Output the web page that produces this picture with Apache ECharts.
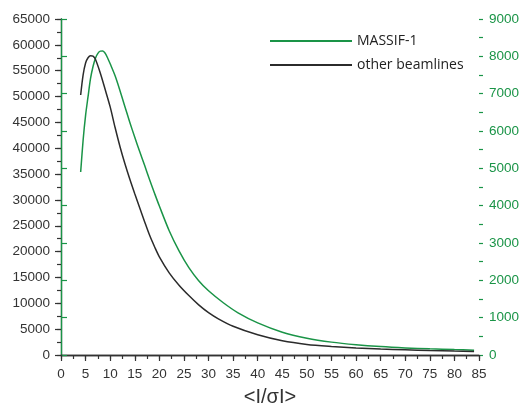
<!DOCTYPE html>
<html>
<head>
<meta charset="utf-8">
<script src="https://cdn.jsdelivr.net/npm/echarts@6/dist/echarts.min.js"></script>
<style>html,body{margin:0;padding:0;background:#fff}#c{width:522px;height:403px}</style>
</head>
<body>
<div id="c"></div>
<script>
// x values: <I/sigmaI>
var otherX = [4, 4.5, 5, 5.5, 6, 6.5, 7, 8, 9, 10, 11, 12, 13, 14, 15, 16, 17, 18, 19, 20, 22, 24, 26, 28, 30, 32, 35, 40, 45, 50, 55, 60, 65, 70, 75, 80, 84];
var otherY = [50300, 54200, 56500, 57500, 57900, 57800, 57200, 54500, 51300, 48000, 44000, 40300, 37000, 34000, 31200, 28500, 25800, 23200, 21000, 19000, 15900, 13500, 11500, 9700, 8200, 7000, 5550, 3900, 2750, 2050, 1650, 1350, 1150, 1000, 860, 760, 700];
var massifX = [4, 4.5, 5, 5.5, 6, 6.5, 7, 7.5, 8, 8.5, 9, 9.5, 10, 11, 12, 13, 14, 15, 16, 17, 18, 19, 20, 22, 24, 26, 28, 30, 33, 36, 40, 45, 50, 55, 60, 65, 70, 75, 80, 84];
var massifY = [4900, 5760, 6420, 6920, 7400, 7720, 7950, 8080, 8140, 8145, 8080, 7950, 7800, 7480, 7080, 6650, 6230, 5830, 5450, 5080, 4700, 4340, 3990, 3330, 2790, 2340, 1990, 1720, 1400, 1130, 860, 610, 450, 345, 275, 225, 190, 165, 145, 130];
var xTicks = {min: 0, max: 85, interval: 5, minor: 2.5};
var leftTicks = {min: 0, max: 65000, interval: 5000, minor: 2500};
var rightTicks = {min: 0, max: 9000, interval: 1000, minor: 500};
var names = ['MASSIF-1', 'other beamlines'];

function pairs(xs, ys) { return xs.map(function (x, i) { return [x, ys[i]]; }); }
function plain(v) { return String(v); }

var GREEN = '#1a9447';
var DARK = '#2b2b2b';
var AX = '#333';
var FONT = 'Liberation Sans';

function tickOnly(base, pos, color) {
  return {
    type: 'value', position: pos, min: base.min, max: base.max, interval: base.minor,
    axisLine: {show: false},
    axisTick: {show: true, inside: false, length: 4, lineStyle: {color: color, width: 1.2}},
    axisLabel: {show: false}, splitLine: {show: false}
  };
}

var chart = echarts.init(document.getElementById('c'));
chart.setOption({
  animation: false,
  grid: {left: 61, right: 43, top: 19, bottom: 48, outerBoundsMode: 'none', containLabel: false},
  legend: {
    data: names,
    orient: 'vertical',
    left: 265, top: 29,
    icon: 'rect', itemWidth: 82, itemHeight: 2, itemGap: 10,
    textStyle: {fontFamily: 'Open Sans', fontSize: 14, color: '#222'}
  },
  xAxis: [{
    type: 'value', position: 'bottom', min: xTicks.min, max: xTicks.max, interval: xTicks.interval,
    name: '<I/σI>', nameLocation: 'middle', nameGap: 32,
    nameTextStyle: {fontFamily: FONT, fontSize: 20, color: AX},
    axisLine: {lineStyle: {color: AX, width: 1.3}},
    axisTick: {show: true, inside: false, length: 6, lineStyle: {color: AX, width: 1.2}},
    splitLine: {show: false},
    axisLabel: {margin: 12, fontFamily: FONT, fontSize: 13.5, color: AX, formatter: plain}
  }, {
    type: 'value', position: 'top', min: xTicks.min, max: xTicks.max,
    axisLine: {show: true, lineStyle: {color: AX, width: 1.3}},
    axisTick: {show: false}, axisLabel: {show: false}, splitLine: {show: false}
  }, tickOnly(xTicks, 'bottom', AX)],
  yAxis: [{
    type: 'value', position: 'left', min: leftTicks.min, max: leftTicks.max, interval: leftTicks.interval,
    axisLine: {show: true, lineStyle: {color: AX, width: 1.3}},
    axisTick: {show: true, inside: false, length: 6, lineStyle: {color: AX, width: 1.2}},
    splitLine: {show: false},
    axisLabel: {margin: 11, fontFamily: FONT, fontSize: 13.5, color: AX, formatter: plain}
  }, {
    type: 'value', position: 'right', min: rightTicks.min, max: rightTicks.max, interval: rightTicks.interval,
    axisLine: {show: true, lineStyle: {color: GREEN, width: 1.3}},
    axisTick: {show: true, inside: false, length: 6, lineStyle: {color: GREEN, width: 1.2}},
    splitLine: {show: false},
    axisLabel: {margin: 10, fontFamily: FONT, fontSize: 13.5, color: GREEN, formatter: plain}
  }, tickOnly(leftTicks, 'left', AX), tickOnly(rightTicks, 'right', GREEN)],
  series: [{
    name: names[0], type: 'line', xAxisIndex: 0, yAxisIndex: 1,
    data: pairs(massifX, massifY), smooth: 0.3, showSymbol: false,
    lineStyle: {color: GREEN, width: 1.5}, itemStyle: {color: GREEN}
  }, {
    name: names[1], type: 'line', xAxisIndex: 0, yAxisIndex: 0,
    data: pairs(otherX, otherY), smooth: 0.3, showSymbol: false,
    lineStyle: {color: DARK, width: 1.5}, itemStyle: {color: DARK}
  }]
});
</script>
</body>
</html>
